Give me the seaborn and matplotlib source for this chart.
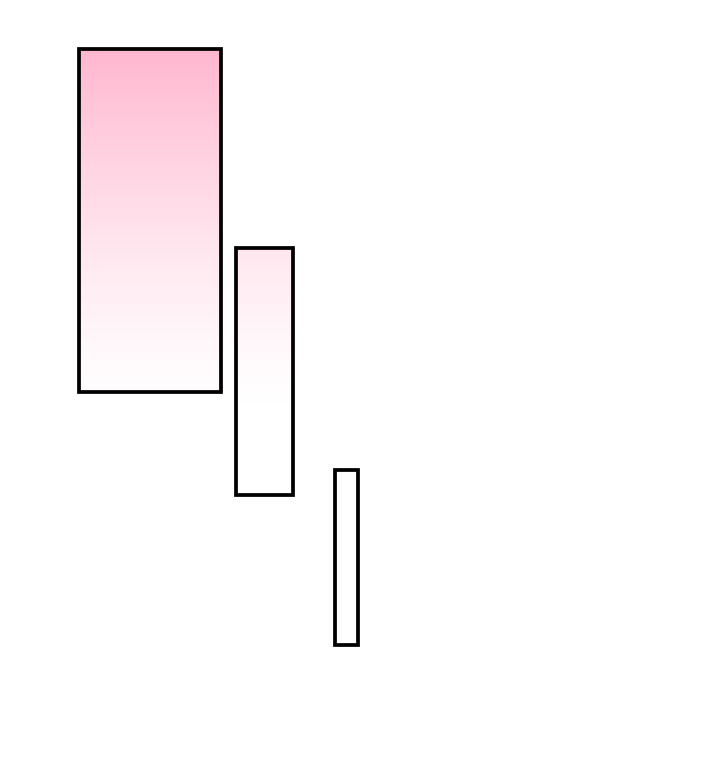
import numpy as np
import matplotlib
matplotlib.use("Agg")
import matplotlib.pyplot as plt
import seaborn as sns
from matplotlib.colors import LinearSegmentedColormap

# 数据：三个浮动矩形（单位与坐标轴一致）
categories = ["A", "B", "C"]
left = [7.9, 23.6, 33.5]
widths = [14.2, 5.7, 2.3]
bottoms = [37.6, 27.3, 12.3]
tops = [71.9, 52.0, 29.8]

sns.set_theme(style="white")
plt.rcParams['font.family'] = ['DejaVu Sans']

fig = plt.figure(figsize=(7.2, 7.68), dpi=100)
ax = fig.add_axes([0, 0, 1, 1])

heights = [t - b for t, b in zip(tops, bottoms)]
bars = ax.bar(left, heights, bottom=bottoms, width=widths, align="edge",
              facecolor="none", edgecolor="black", linewidth=2.7, zorder=3)

# 全局竖向渐变：顶部粉色 -> 白色
cmap = LinearSegmentedColormap.from_list("pinkfade", ["#ffffff", "#ffb6cf"])
grad = np.linspace(0, 1, 256).reshape(-1, 1) ** 1.3
for bar in bars:
    im = ax.imshow(grad, cmap=cmap, vmin=0, vmax=1, origin="lower", aspect="auto",
                   extent=[0, 72, 36.0, 72.4], zorder=2, interpolation="bicubic")
    im.set_clip_path(bar)

ax.set_xlim(0, 72)
ax.set_ylim(0, 76.8)
ax.axis("off")
sns.despine(left=True, bottom=True)

fig.savefig("out.png", dpi=100)
